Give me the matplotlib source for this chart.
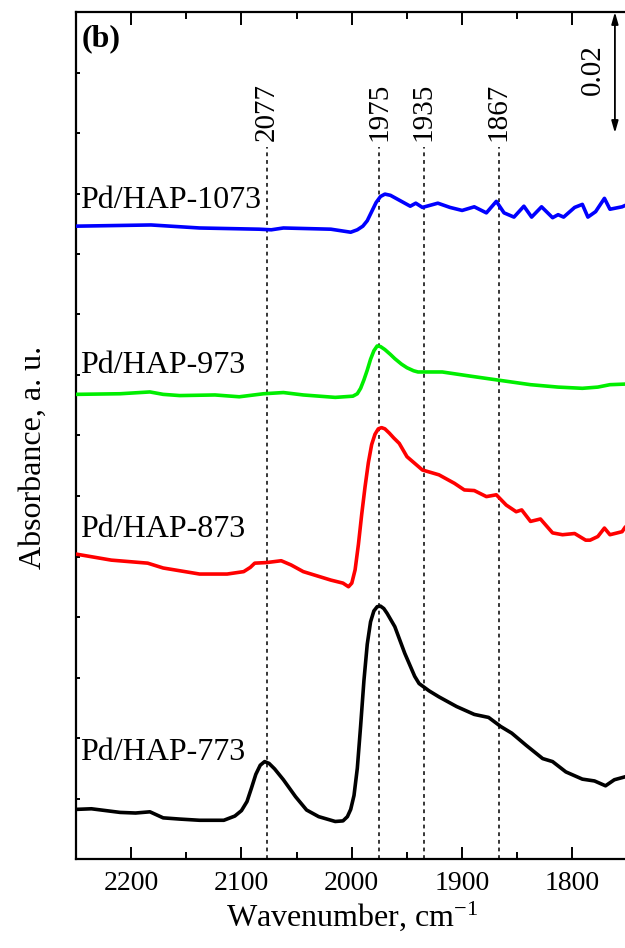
import matplotlib
matplotlib.use("Agg")
import matplotlib.pyplot as plt
from matplotlib.ticker import MultipleLocator

plt.rcParams['font.family'] = ['Liberation Serif', 'DejaVu Serif']
plt.rcParams['mathtext.default'] = 'regular'

# ---- data (wavenumber cm^-1, absorbance with vertical offsets) ----
wn_773 = [2250, 2236, 2210, 2196, 2183, 2171, 2156, 2138, 2116, 2106, 2100, 2095, 2091, 2087,
          2083, 2079, 2075, 2070, 2062, 2051, 2041, 2030, 2015, 2008, 2004, 2001, 1998, 1995,
          1992, 1989, 1986, 1983, 1980, 1977, 1974, 1971, 1968, 1961, 1952, 1943, 1939, 1930,
          1921, 1905, 1889, 1876, 1865, 1855, 1842, 1827, 1818, 1806, 1791, 1780, 1770, 1762,
          1752]
ab_773 = [0.0082, 0.0083, 0.0077, 0.0076, 0.0078, 0.0068, 0.0066, 0.0064, 0.0064, 0.0071, 0.0080,
          0.0095, 0.0117, 0.0140, 0.0155, 0.0161, 0.0158, 0.0149, 0.0131, 0.0103, 0.0081, 0.0070,
          0.0062, 0.0063, 0.0070, 0.0082, 0.0105, 0.0150, 0.0220, 0.0295, 0.0355, 0.0392, 0.0410,
          0.0417, 0.0418, 0.0414, 0.0406, 0.0384, 0.0340, 0.0302, 0.0290, 0.0278, 0.0268, 0.0252,
          0.0239, 0.0234, 0.0219, 0.0208, 0.0188, 0.0166, 0.0161, 0.0144, 0.0132, 0.0129, 0.0121,
          0.0131, 0.0136]

wn_873 = [2250, 2218, 2185, 2171, 2138, 2113, 2098, 2092, 2088, 2077, 2064, 2055, 2044, 2019,
          2008, 2003, 2000, 1997, 1994, 1991, 1988, 1985, 1982, 1979, 1976, 1973, 1970, 1966,
          1962, 1957, 1950, 1943, 1936, 1921, 1907, 1898, 1889, 1878, 1869, 1860, 1851, 1846,
          1838, 1829, 1818, 1809, 1798, 1788, 1784, 1777, 1771, 1766, 1755, 1752]
ab_873 = [0.0504, 0.0494, 0.0489, 0.0481, 0.0471, 0.0471, 0.0475, 0.0482, 0.0489, 0.0490, 0.0493,
          0.0486, 0.0475, 0.0461, 0.0456, 0.0450, 0.0456, 0.0478, 0.0520, 0.0570, 0.0615, 0.0655,
          0.0685, 0.0702, 0.0711, 0.0713, 0.0711, 0.0704, 0.0696, 0.0687, 0.0665, 0.0654, 0.0643,
          0.0635, 0.0621, 0.0610, 0.0609, 0.0599, 0.0602, 0.0585, 0.0574, 0.0577, 0.0558, 0.0562,
          0.0539, 0.0536, 0.0538, 0.0527, 0.0527, 0.0533, 0.0547, 0.0536, 0.0541, 0.0549]

wn_973 = [2250, 2210, 2183, 2171, 2156, 2124, 2102, 2080, 2062, 2044, 2015, 1999, 1995, 1992,
          1989, 1986, 1983, 1980, 1977, 1974, 1970, 1965, 1961, 1955, 1950, 1944, 1940, 1918,
          1892, 1869, 1838, 1813, 1791, 1777, 1766, 1752]
ab_973 = [0.0768, 0.0769, 0.0772, 0.0768, 0.0766, 0.0767, 0.0764, 0.0769, 0.0771, 0.0767, 0.0763,
          0.0765, 0.0769, 0.0778, 0.0792, 0.0808, 0.0826, 0.0840, 0.0848, 0.0847, 0.0842, 0.0834,
          0.0827, 0.0818, 0.0812, 0.0807, 0.0805, 0.0805, 0.0798, 0.0792, 0.0784, 0.0780, 0.0778,
          0.0780, 0.0784, 0.0785]

wn_1073 = [2250, 2182, 2138, 2084, 2073, 2062, 2019, 2001, 1995, 1990, 1986, 1982, 1978, 1974,
           1970, 1965, 1957, 1947, 1942, 1936, 1922, 1911, 1900, 1889, 1878, 1869, 1862, 1853,
           1844, 1837, 1828, 1818, 1813, 1808, 1798, 1791, 1786, 1779, 1771, 1766, 1755, 1750]
ab_1073 = [0.1046, 0.1048, 0.1043, 0.1041, 0.1040, 0.1043, 0.1041, 0.1036, 0.1040, 0.1046, 0.1055,
           0.1070, 0.1085, 0.1095, 0.1099, 0.1097, 0.1089, 0.1079, 0.1084, 0.1077, 0.1084, 0.1077,
           0.1072, 0.1078, 0.1068, 0.1087, 0.1068, 0.1061, 0.1079, 0.1061, 0.1078, 0.1060, 0.1065,
           0.1061, 0.1077, 0.1082, 0.1061, 0.1070, 0.1092, 0.1074, 0.1078, 0.1082]

sample_names = ["Pd/HAP-773", "Pd/HAP-873", "Pd/HAP-973", "Pd/HAP-1073"]
line_colors = ["#000000", "#ff0000", "#00ee00", "#0000ff"]
peak_positions = [2077, 1975, 1935, 1867]
x_ticks = [2200, 2100, 2000, 1900, 1800]
scale_bar = 0.02

# ---- figure ----
W, H = 625, 948
fig = plt.figure(figsize=(W / 100, H / 100), dpi=100)
ax_w_px = 627.6 - 76
ax_h_px = 859 - 12
ax = fig.add_axes([76 / W, 1 - 859 / H, ax_w_px / W, ax_h_px / H])

series = [(wn_773, ab_773), (wn_873, ab_873), (wn_973, ab_973), (wn_1073, ab_1073)]
for (x, y), c in zip(series, line_colors):
    ax.plot(x, y, color=c, lw=2.6, solid_joinstyle='round', solid_capstyle='round', zorder=3)

ax.set_xlim(2250, 1750)
ax.set_ylim(0, 0.14)

# peak guide lines and labels
for p in peak_positions:
    ax.plot([p, p], [0, 0.1177], color='k', lw=1.1, ls=(0, (2.5, 2.5)), zorder=2)
    ax.text(p, 0.1186, str(p), rotation=90, ha='center', va='bottom', fontsize=21)

# sample labels
label_y = [0.0164, 0.0532, 0.0803, 0.1076]
for name, yy in zip(sample_names, label_y):
    ax.text(2246.5, yy, name, ha='left', va='baseline', fontsize=23, zorder=4)

# panel letter
ax.text((82 - 76) / ax_w_px, 1 - 12 / ax_h_px, "(b)", transform=ax.transAxes,
        ha='left', va='top', fontsize=23, fontweight='bold')

# scale bar
ax.annotate("", xy=(1761.5, 0.14 - scale_bar), xytext=(1761.5, 0.14),
            arrowprops=dict(arrowstyle='<|-|>,head_length=0.7,head_width=0.2', lw=1.3,
                            color='k', shrinkA=0, shrinkB=0), annotation_clip=False)
ax.text(1781.5, 0.1304, f"{scale_bar:.2f}", rotation=90, ha='center', va='center', fontsize=21)

# axes styling
for s in ['left', 'bottom', 'top']:
    ax.spines[s].set_linewidth(1.6)
ax.spines['right'].set_visible(False)

ax.set_xticks(x_ticks)
ax.xaxis.set_minor_locator(MultipleLocator(50))
ax.yaxis.set_major_locator(MultipleLocator(0.01))
ax.tick_params(axis='x', which='major', direction='in', length=9, width=1.4,
               labelsize=20, pad=9, top=True)
ax.tick_params(axis='x', which='minor', direction='in', length=5, width=1.4, top=True)
ax.tick_params(axis='y', which='major', direction='in', length=3, width=1.4,
               labelleft=False, right=False)

ax.set_xlabel(r"Wavenumber, cm$^{-1}$", fontsize=23, labelpad=2)
ax.text((33 - 76) / ax_w_px, (859 - 457) / ax_h_px, "Absorbance, a. u.", transform=ax.transAxes,
        rotation=90, ha='center', va='center', fontsize=23)

fig.savefig("out.png", dpi=100)
